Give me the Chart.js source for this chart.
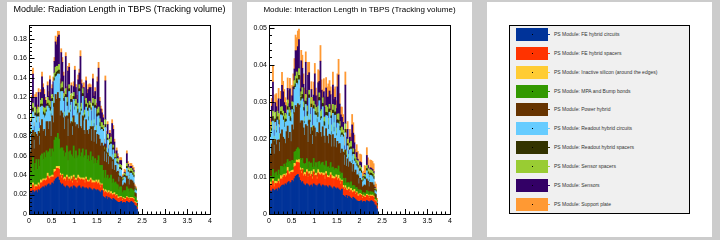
<!DOCTYPE html>
<html>
<head>
<meta charset="utf-8">
<script src="https://cdn.jsdelivr.net/npm/chart.js@4.4.1/dist/chart.umd.min.js"></script>
<style>
html,body{margin:0;padding:0;background:#cccccc;width:720px;height:240px;overflow:hidden;font-family:"Liberation Sans",Arial,Helvetica,sans-serif;}
.panel{position:absolute;top:2px;width:225px;height:235px;background:#ffffff;}
.panel canvas{position:absolute;left:0;top:0;}
.title{position:absolute;left:0;width:225px;text-align:center;white-space:nowrap;color:#000;line-height:1;}
.legbox{position:absolute;left:22px;top:23px;width:181px;height:189px;box-sizing:border-box;border:1px solid #000;background:#f0f0f0;}
.sw{position:absolute;left:29px;width:32px;height:13px;}
.dot{position:absolute;left:45px;width:1px;height:1px;background:#000;}
.seg{position:absolute;left:61px;width:2px;height:1px;}
.lt{position:absolute;left:67px;font-size:5px;line-height:5px;color:#333;white-space:nowrap;}
</style>
</head>
<body>
<div class="panel" style="left:7px"><canvas id="c1" width="225" height="235"></canvas><div class="title" id="t1" style="top:3px;font-size:9px"></div></div>
<div class="panel" style="left:247px"><canvas id="c2" width="225" height="235"></canvas><div class="title" id="t2" style="top:4px;font-size:8px"></div></div>
<div class="panel" style="left:487px" id="p3"><div class="legbox"></div></div>
<script>
// ---------- categories / labels ----------
const titles = ["Module: Radiation Length in TBPS (Tracking volume)", "Module: Interaction Length in TBPS (Tracking volume)"];
const seriesNames = [
  "PS Module: FE hybrid circuits",
  "PS Module: FE hybrid spacers",
  "PS Module: Inactive silicon (around the edges)",
  "PS Module: MPA and Bump bonds",
  "PS Module: Power hybrid",
  "PS Module: Readout hybrid circuits",
  "PS Module: Readout hybrid spacers",
  "PS Module: Sensor spacers",
  "PS Module: Sensors",
  "PS Module: Support plate"
];
const seriesColors = ["#003399","#ff3300","#ffcc33","#339900","#663300","#66ccff","#333300","#99cc33","#330066","#ff9933"];
const binLow = 0, binWidth = 0.025; // eta bins 0 .. 2.4
const xTickValues = [0,0.5,1,1.5,2,2.5,3,3.5,4];
const xTickLabels = ["0","0.5","1","1.5","2","2.5","3","3.5","4"];
const rlYTickValues = [0,0.02,0.04,0.06,0.08,0.1,0.12,0.14,0.16,0.18];
const rlYTickLabels = ["0","0.02","0.04","0.06","0.08","0.1","0.12","0.14","0.16","0.18"];
const ilYTickValues = [0,0.01,0.02,0.03,0.04,0.05];
const ilYTickLabels = ["0","0.01","0.02","0.03","0.04","0.05"];

// ---------- Radiation length series ----------
const rl_feCircuits = [
.020,.022,.021,.024,.022,.023,.024,.022,.025,.024,.026,.027,
.028,.027,.029,.028,.030,.031,.029,.030,.032,
.031,.034,.036,.037,.038,.035,.032,.030,.031,
.029,.028,.027,.029,.028,.026,.027,.028,.026,.029,.028,.027,.026,.028,.029,.027,.026,.028,.027,.026,.027,
.026,.025,.027,.026,.025,.024,.026,.025,.024,.025,.024,.023,.022,.024,
.018,.017,.016,.018,.015,.017,.016,.015,.014,.016,.015,.014,.013,.012,
.012,.012,.013,.011,.012,.012,.011,.013,.012,.011,.012,.013,.012,.011,.009,.008,.005];
const rl_feSpacers = [
.003,.005,.004,.006,.003,.005,.004,.006,.005,.004,.006,.005,
.006,.008,.005,.007,.009,.006,.007,.008,.006,
.007,.009,.008,.010,.009,.011,.008,.007,.009,
.006,.008,.007,.009,.006,.010,.007,.008,.006,.009,.007,.008,.006,.009,.007,.008,.010,.007,.008,.006,.009,
.007,.008,.006,.009,.007,.008,.006,.007,.009,.006,.008,.007,.005,.006,
.006,.005,.007,.004,.006,.005,.004,.006,.005,.004,.005,.004,.006,.004,
.004,.005,.004,.003,.004,.003,.004,.004,.004,.003,.004,.003,.004,.004,.003,.003,.002];
const rl_inactiveSi = [
.002,.002,.001,.002,.003,.002,.002,.001,.002,.002,.003,.002,
.002,.001,.002,.002,.003,.002,.002,.001,.002,
.002,.003,.002,.002,.002,.003,.002,.002,.001,
.002,.002,.003,.002,.001,.002,.002,.003,.002,.002,.001,.002,.002,.003,.002,.002,.001,.002,.002,.003,.002,
.002,.001,.002,.002,.003,.002,.002,.001,.002,.002,.003,.002,.002,.001,
.002,.001,.002,.002,.001,.002,.001,.002,.002,.001,.002,.001,.001,.002,
.001,.001,.001,.001,.001,.001,.001,.001,.001,.001,.001,.001,.001,.001,.001,.001,0];
const rl_mpaBump = [
.019,.015,.025,.026,.017,.022,.026,.017,.024,.019,.025,.028,
.020,.027,.022,.028,.021,.025,.029,.020,.027,
.024,.030,.033,.029,.034,.028,.025,.029,.027,
.028,.021,.026,.030,.020,.026,.029,.022,.025,.030,.021,.028,.024,.020,.029,.022,.026,.030,.021,.025,.028,
.021,.026,.019,.027,.020,.025,.018,.024,.017,.022,.025,.018,.021,.019,
.019,.014,.020,.013,.018,.012,.016,.017,.011,.015,.010,.014,.011,.012,
.008,.010,.010,.007,.007,.008,.008,.010,.009,.008,.009,.009,.008,.008,.005,.005,.002];
const rl_powerHybrid = [
.025,.020,.031,.028,.022,.032,.026,.034,.029,.022,.031,.035,
.029,.024,.022,.030,.032,.023,.028,.021,.034,
.030,.038,.044,.040,.042,.042,.034,.038,.036,
.034,.028,.037,.031,.025,.040,.028,.034,.022,.031,.037,.025,.034,.028,.037,.031,.025,.034,.028,.022,.031,
.030,.022,.033,.026,.020,.031,.022,.029,.020,.027,.021,.027,.020,.023,
.025,.017,.027,.016,.023,.015,.022,.018,.014,.020,.013,.017,.012,.014,
.008,.011,.010,.007,.006,.008,.007,.011,.010,.007,.009,.009,.009,.008,.004,.004,.002];
const rl_readoutCircuits = [
.010,.018,.013,.019,.009,.017,.012,.020,.015,.009,.019,.014,
.017,.012,.021,.010,.016,.022,.011,.020,.015,
.016,.023,.018,.024,.019,.025,.015,.020,.022,
.017,.012,.020,.010,.018,.022,.012,.020,.009,.017,.013,.021,.010,.016,.022,.012,.018,.020,.010,.017,.013,
.020,.014,.022,.017,.012,.021,.015,.023,.012,.018,.020,.013,.016,.014,
.015,.010,.017,.009,.013,.008,.012,.014,.008,.010,.011,.007,.009,.007,
.005,.007,.007,.005,.005,.006,.006,.008,.007,.005,.007,.007,.006,.006,.003,.003,.001];
const rl_readoutSpacers = [
.003,.003,.002,.004,.003,.003,.002,.003,.004,.003,.003,.002,
.003,.004,.003,.002,.003,.003,.004,.003,.003,
.004,.003,.003,.004,.003,.004,.003,.003,.004,
.003,.002,.003,.004,.003,.003,.002,.003,.004,.003,.003,.002,.003,.004,.003,.003,.002,.003,.004,.003,.003,
.003,.004,.003,.002,.003,.003,.004,.003,.002,.003,.003,.004,.003,.002,
.002,.002,.003,.002,.002,.001,.002,.002,.003,.002,.002,.001,.002,.002,
.002,.002,.002,.001,.001,.002,.002,.002,.002,.002,.002,.002,.002,.002,.001,.001,0];
const rl_sensorSpacers = [
.005,.004,.006,.005,.005,.006,.004,.005,.006,.005,.004,.006,
.005,.006,.005,.004,.006,.005,.006,.005,.004,
.006,.005,.007,.006,.005,.006,.007,.005,.006,
.005,.004,.006,.005,.006,.004,.005,.006,.005,.004,.006,.005,.005,.006,.004,.005,.006,.005,.004,.005,.006,
.005,.006,.004,.005,.006,.005,.004,.006,.005,.005,.006,.004,.005,.005,
.004,.003,.005,.004,.004,.003,.004,.005,.004,.003,.004,.004,.003,.004,
.002,.003,.003,.002,.002,.002,.002,.003,.003,.002,.003,.003,.003,.003,.001,.001,.001];
const rl_sensors = [
.008,0,.016,.030,.006,.010,.020,0,.015,.006,.008,.022,
.020,.014,.008,.002,.012,.004,.022,.010,.006,
.016,.012,.026,.022,.030,.030,.008,.032,.020,
.018,.016,.033,.008,.040,.018,.006,.008,.018,.006,.032,.012,.008,.024,.012,.052,.020,0,.026,.010,.018,
.010,.022,.014,.016,.010,.020,.024,.008,.020,.028,.040,.018,.014,.010,
.008,.004,.040,.014,.010,.004,.006,0,.032,.016,.012,0,.008,.002,
.001,.004,.005,.001,.001,.001,.001,.010,.003,.001,.002,.002,.002,.002,.001,0,0];
const rl_supportPlate = [
.004,.004,.003,.006,.004,.003,.005,.004,.004,.005,.003,.005,
.004,.005,.003,.004,.004,.005,.004,.003,.004,
.005,.004,.006,.005,.006,.004,.005,.004,.005,
.004,.005,.004,.003,.005,.004,.004,.003,.004,.005,.004,.003,.004,.005,.004,.006,.004,.003,.005,.004,.004,
.004,.005,.004,.003,.004,.005,.004,.004,.003,.005,.006,.004,.003,.004,
.003,.004,.005,.003,.003,.004,.003,.003,.004,.004,.003,.003,.003,.003,
.003,.003,.003,.002,.002,.003,.003,.003,.003,.002,.003,.003,.003,.003,.002,.002,.001];

// ---------- Interaction length series ----------
const il_feCircuits = [
.0056,.0062,.0059,.0067,.0062,.0064,.0067,.0062,.0070,.0067,.0073,.0076,
.0078,.0076,.0081,.0078,.0084,.0087,.0081,.0084,.0090,
.0087,.0095,.0101,.0104,.0106,.0098,.0090,.0084,.0087,
.0081,.0078,.0076,.0081,.0078,.0073,.0076,.0078,.0073,.0081,.0078,.0076,.0073,.0078,.0081,.0076,.0073,.0078,.0076,.0073,.0076,
.0073,.0070,.0076,.0073,.0070,.0067,.0073,.0070,.0067,.0070,.0067,.0064,.0062,.0067,
.0050,.0048,.0045,.0050,.0042,.0048,.0045,.0042,.0039,.0045,.0042,.0039,.0036,.0034,
.0034,.0034,.0036,.0031,.0034,.0034,.0031,.0036,.0034,.0031,.0034,.0036,.0034,.0031,.0025,.0022,.0014];
const il_feSpacers = [
.0011,.0018,.0014,.0021,.0011,.0018,.0014,.0021,.0018,.0014,.0021,.0018,
.0021,.0028,.0018,.0025,.0032,.0021,.0025,.0028,.0021,
.0025,.0032,.0028,.0035,.0032,.0039,.0028,.0025,.0032,
.0021,.0028,.0025,.0032,.0021,.0035,.0025,.0028,.0021,.0032,.0025,.0028,.0021,.0032,.0025,.0028,.0035,.0025,.0028,.0021,.0032,
.0025,.0028,.0021,.0032,.0025,.0028,.0021,.0025,.0032,.0021,.0028,.0025,.0018,.0021,
.0021,.0018,.0025,.0014,.0021,.0018,.0014,.0021,.0018,.0014,.0018,.0014,.0021,.0014,
.0014,.0018,.0014,.0011,.0014,.0011,.0014,.0014,.0014,.0011,.0014,.0011,.0014,.0014,.0011,.0011,.0007];
const il_inactiveSi = [
.0006,.0006,.0003,.0006,.0009,.0006,.0006,.0003,.0006,.0006,.0009,.0006,
.0006,.0003,.0006,.0006,.0009,.0006,.0006,.0003,.0006,
.0006,.0009,.0006,.0006,.0006,.0009,.0006,.0006,.0003,
.0006,.0006,.0009,.0006,.0003,.0006,.0006,.0009,.0006,.0006,.0003,.0006,.0006,.0009,.0006,.0006,.0003,.0006,.0006,.0009,.0006,
.0006,.0003,.0006,.0006,.0009,.0006,.0006,.0003,.0006,.0006,.0009,.0006,.0006,.0003,
.0006,.0003,.0006,.0006,.0003,.0006,.0003,.0006,.0006,.0003,.0006,.0003,.0003,.0006,
.0003,.0003,.0003,.0003,.0003,.0003,.0003,.0003,.0003,.0003,.0003,.0003,.0003,.0003,.0003,.0003,0];
const il_mpaBump = [
.0019,.0015,.0025,.0026,.0017,.0022,.0026,.0017,.0024,.0019,.0025,.0028,
.0020,.0027,.0022,.0028,.0021,.0025,.0029,.0020,.0027,
.0024,.0030,.0033,.0029,.0034,.0028,.0025,.0029,.0027,
.0028,.0021,.0026,.0030,.0020,.0026,.0029,.0022,.0025,.0030,.0021,.0028,.0024,.0020,.0029,.0022,.0026,.0030,.0021,.0025,.0028,
.0021,.0026,.0019,.0027,.0020,.0025,.0018,.0024,.0017,.0022,.0025,.0018,.0021,.0019,
.0019,.0014,.0020,.0013,.0018,.0012,.0016,.0017,.0011,.0015,.0010,.0014,.0011,.0012,
.0008,.0010,.0010,.0007,.0007,.0008,.0008,.0010,.0009,.0008,.0009,.0009,.0008,.0008,.0005,.0005,.0002];
const il_powerHybrid = [
.0070,.0056,.0087,.0078,.0062,.0090,.0073,.0095,.0081,.0062,.0087,.0098,
.0081,.0067,.0062,.0084,.0090,.0064,.0078,.0059,.0095,
.0084,.0106,.0123,.0112,.0118,.0118,.0095,.0106,.0101,
.0095,.0078,.0104,.0087,.0070,.0112,.0078,.0095,.0062,.0087,.0104,.0070,.0095,.0078,.0104,.0087,.0070,.0095,.0078,.0062,.0087,
.0084,.0062,.0092,.0073,.0056,.0087,.0062,.0081,.0056,.0076,.0059,.0076,.0056,.0064,
.0070,.0048,.0076,.0045,.0064,.0042,.0062,.0050,.0039,.0056,.0036,.0048,.0034,.0039,
.0022,.0031,.0028,.0020,.0017,.0022,.0020,.0031,.0028,.0020,.0025,.0025,.0025,.0022,.0011,.0011,.0006];
const il_readoutCircuits = [
.0027,.0049,.0035,.0051,.0024,.0046,.0032,.0054,.0041,.0024,.0051,.0038,
.0046,.0032,.0057,.0027,.0043,.0059,.0030,.0054,.0041,
.0043,.0062,.0049,.0065,.0051,.0068,.0041,.0054,.0059,
.0046,.0032,.0054,.0027,.0049,.0059,.0032,.0054,.0024,.0046,.0035,.0057,.0027,.0043,.0059,.0032,.0049,.0054,.0027,.0046,.0035,
.0054,.0038,.0059,.0046,.0032,.0057,.0041,.0062,.0032,.0049,.0054,.0035,.0043,.0038,
.0041,.0027,.0046,.0024,.0035,.0022,.0032,.0038,.0022,.0027,.0030,.0019,.0024,.0019,
.0014,.0019,.0019,.0014,.0014,.0016,.0016,.0022,.0019,.0014,.0019,.0019,.0016,.0016,.0008,.0008,.0003];
const il_readoutSpacers = [
.0009,.0009,.0006,.0012,.0009,.0009,.0006,.0009,.0012,.0009,.0009,.0006,
.0009,.0012,.0009,.0006,.0009,.0009,.0012,.0009,.0009,
.0012,.0009,.0009,.0012,.0009,.0012,.0009,.0009,.0012,
.0009,.0006,.0009,.0012,.0009,.0009,.0006,.0009,.0012,.0009,.0009,.0006,.0009,.0012,.0009,.0009,.0006,.0009,.0012,.0009,.0009,
.0009,.0012,.0009,.0006,.0009,.0009,.0012,.0009,.0006,.0009,.0009,.0012,.0009,.0006,
.0006,.0006,.0009,.0006,.0006,.0003,.0006,.0006,.0009,.0006,.0006,.0003,.0006,.0006,
.0006,.0006,.0006,.0003,.0003,.0006,.0006,.0006,.0006,.0006,.0006,.0006,.0006,.0006,.0003,.0003,0];
const il_sensorSpacers = [
.0015,.0012,.0018,.0015,.0015,.0018,.0012,.0015,.0018,.0015,.0012,.0018,
.0015,.0018,.0015,.0012,.0018,.0015,.0018,.0015,.0012,
.0018,.0015,.0021,.0018,.0015,.0018,.0021,.0015,.0018,
.0015,.0012,.0018,.0015,.0018,.0012,.0015,.0018,.0015,.0012,.0018,.0015,.0015,.0018,.0012,.0015,.0018,.0015,.0012,.0015,.0018,
.0015,.0018,.0012,.0015,.0018,.0015,.0012,.0018,.0015,.0015,.0018,.0012,.0015,.0015,
.0012,.0009,.0015,.0012,.0012,.0009,.0012,.0015,.0012,.0009,.0012,.0012,.0009,.0012,
.0006,.0009,.0009,.0006,.0006,.0006,.0006,.0009,.0009,.0006,.0009,.0009,.0009,.0009,.0003,.0003,.0003];
const il_sensors = [
.0021,0,.0042,.0078,.0016,.0026,.0052,0,.0039,.0016,.0021,.0057,
.0052,.0036,.0021,.0005,.0031,.0010,.0057,.0026,.0016,
.0042,.0031,.0068,.0057,.0078,.0078,.0021,.0083,.0052,
.0047,.0042,.0086,.0021,.0104,.0047,.0016,.0021,.0047,.0016,.0083,.0031,.0021,.0062,.0031,.0135,.0052,0,.0068,.0026,.0047,
.0026,.0057,.0036,.0042,.0026,.0052,.0062,.0021,.0052,.0073,.0104,.0047,.0036,.0026,
.0021,.0010,.0104,.0036,.0026,.0010,.0016,0,.0083,.0042,.0031,0,.0021,.0005,
.0003,.0010,.0013,.0003,.0003,.0003,.0003,.0026,.0008,.0003,.0005,.0005,.0005,.0005,.0003,0,0];
const il_supportPlate = [
.0028,.0028,.0021,.0042,.0028,.0021,.0035,.0028,.0028,.0035,.0021,.0035,
.0028,.0035,.0021,.0028,.0028,.0035,.0028,.0021,.0028,
.0035,.0028,.0042,.0035,.0042,.0028,.0035,.0028,.0035,
.0028,.0035,.0028,.0021,.0035,.0028,.0028,.0021,.0028,.0035,.0028,.0021,.0028,.0035,.0028,.0042,.0028,.0021,.0035,.0028,.0028,
.0028,.0035,.0028,.0021,.0028,.0035,.0028,.0028,.0021,.0035,.0042,.0028,.0021,.0028,
.0021,.0028,.0035,.0021,.0021,.0028,.0021,.0021,.0028,.0028,.0021,.0021,.0021,.0021,
.0021,.0021,.0021,.0014,.0014,.0021,.0021,.0021,.0021,.0014,.0021,.0021,.0021,.0021,.0014,.0014,.0007];

const rlSeries = [rl_feCircuits, rl_feSpacers, rl_inactiveSi, rl_mpaBump, rl_powerHybrid, rl_readoutCircuits, rl_readoutSpacers, rl_sensorSpacers, rl_sensors, rl_supportPlate];
const ilSeries = [il_feCircuits, il_feSpacers, il_inactiveSi, il_mpaBump, il_powerHybrid, il_readoutCircuits, il_readoutSpacers, il_sensorSpacers, il_sensors, il_supportPlate];

// ---------- drawing ----------
const FONT = '"Liberation Sans", Arial, Helvetica, sans-serif';
Chart.defaults.font.family = FONT;

const rootAxes = {
  id: 'rootAxes',
  afterDatasetsDraw(chart, args, o) {
    const {ctx, chartArea: a, scales: {x, y}} = chart;
    ctx.save();
    ctx.strokeStyle = '#000';
    ctx.lineWidth = 1;
    const L = Math.round(a.left) + 0.5, R = Math.round(a.right) + 0.5;
    const T = Math.round(a.top) + 0.5, B = Math.round(a.bottom) + 0.5;
    ctx.beginPath();
    const nY = Math.round(o.yMax / o.yMinor);
    for (let k = 0; k <= nY; k++) {
      const v = k * o.yMinor;
      if (v > o.yMax) break;
      const py = Math.round(y.getPixelForValue(v)) + 0.5;
      const len = (k % 5 === 0) ? 5 : 2.5;
      ctx.moveTo(L, py); ctx.lineTo(L + len, py);
    }
    for (let k = 0; k <= 40; k++) {
      const px = Math.round(x.getPixelForValue(k * 0.1)) + 0.5;
      const len = (k % 5 === 0) ? 5.5 : 3;
      ctx.moveTo(px, B); ctx.lineTo(px, B - len);
    }
    ctx.stroke();
    ctx.strokeRect(L, T, R - L, B - T);
    ctx.restore();
  }
};

function makeChart(id, series, yMax, yMinor, yVals, yLabs) {
  const centers = series[0].map((_, i) => binLow + binWidth * (i + 0.5));
  const datasets = series.map((s, k) => ({
    label: seriesNames[k],
    data: s.map((v, i) => ({x: centers[i], y: v})),
    backgroundColor: seriesColors[k],
    borderWidth: 0,
    barPercentage: 1,
    categoryPercentage: 1
  }));
  new Chart(document.getElementById(id), {
    type: 'bar',
    data: {datasets},
    plugins: [rootAxes],
    options: {
      responsive: false,
      devicePixelRatio: 1,
      animation: false,
      layout: {padding: {top: 23, right: 22, left: 0, bottom: 0}},
      plugins: {legend: {display: false}, tooltip: {enabled: false}, title: {display: false},
                rootAxes: {yMax, yMinor}},
      scales: {
        x: {
          type: 'linear', min: 0, max: 4, stacked: true, offset: false,
          grid: {display: false, drawTicks: false}, border: {display: false},
          ticks: {padding: 3, color: '#000', font: {size: 7}, maxRotation: 0, autoSkip: false,
                  callback: (v, i) => xTickLabels[i]},
          afterBuildTicks: s => { s.ticks = xTickValues.map(v => ({value: v})); },
          afterFit: s => { s.height = 23; }
        },
        y: {
          type: 'linear', min: 0, max: yMax, stacked: true,
          grid: {display: false, drawTicks: false}, border: {display: false},
          ticks: {padding: 2, color: '#000', font: {size: 7},
                  callback: (v, i) => yLabs[i]},
          afterBuildTicks: s => { s.ticks = yVals.map(v => ({value: v})); },
          afterFit: s => { s.width = 22; }
        }
      }
    }
  });
}

document.getElementById('t1').textContent = titles[0];
document.getElementById('t2').textContent = titles[1];
makeChart('c1', rlSeries, 0.1944, 0.004, rlYTickValues, rlYTickLabels);
makeChart('c2', ilSeries, 0.0507, 0.002, ilYTickValues, ilYTickLabels);

// legend panel
const p3 = document.getElementById('p3');
seriesNames.forEach((name, i) => {
  const top = Math.round(26 + 18.86 * i);
  const sw = document.createElement('div'); sw.className = 'sw';
  sw.style.top = top + 'px'; sw.style.background = seriesColors[i]; p3.appendChild(sw);
  const dot = document.createElement('div'); dot.className = 'dot';
  dot.style.top = (top + 6) + 'px'; p3.appendChild(dot);
  const seg = document.createElement('div'); seg.className = 'seg';
  seg.style.top = (top + 6) + 'px'; seg.style.background = seriesColors[i]; p3.appendChild(seg);
  const t = document.createElement('div'); t.className = 'lt';
  t.style.top = (top + 4) + 'px'; t.textContent = name; p3.appendChild(t);
});
</script>
</body>
</html>
